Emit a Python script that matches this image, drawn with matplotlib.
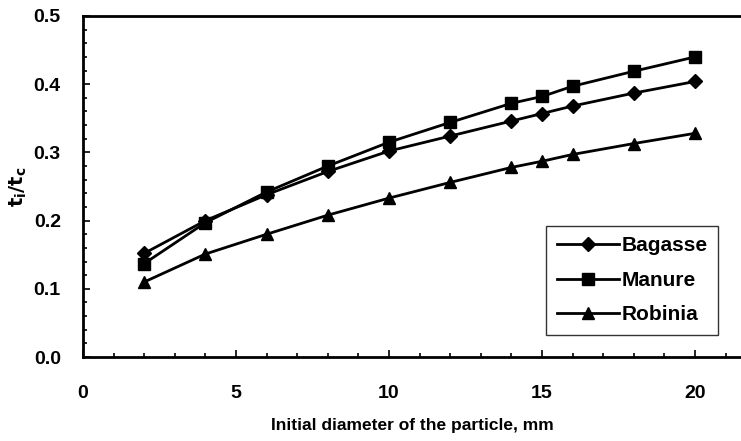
import matplotlib
matplotlib.use("Agg")
import matplotlib.pyplot as plt
from matplotlib.ticker import MultipleLocator

plt.rcParams['font.family'] = ['Liberation Sans', 'DejaVu Sans']

diameter = [2, 4, 6, 8, 10, 12, 14, 15, 16, 18, 20]
bagasse = [0.152, 0.200, 0.238, 0.272, 0.302, 0.324, 0.346, 0.357, 0.368, 0.387, 0.404]
manure = [0.137, 0.197, 0.242, 0.280, 0.315, 0.344, 0.372, 0.382, 0.397, 0.419, 0.440]
robinia = [0.110, 0.151, 0.180, 0.208, 0.233, 0.256, 0.278, 0.287, 0.297, 0.313, 0.328]

fig = plt.figure(figsize=(7.41, 4.41), dpi=100)
ax = fig.add_axes([83/741, (441-357)/441, (741-83)/741, (357-16)/441])

ax.plot(diameter, bagasse, color='black', lw=2, marker='D', ms=7, label='Bagasse')
ax.plot(diameter, manure, color='black', lw=2, marker='s', ms=8, label='Manure')
ax.plot(diameter, robinia, color='black', lw=2, marker='^', ms=8, label='Robinia')

ax.set_xlim(0, 21.5)
ax.set_ylim(0, 0.5)
ax.xaxis.set_major_locator(MultipleLocator(5))
ax.xaxis.set_minor_locator(MultipleLocator(1))
ax.yaxis.set_major_locator(MultipleLocator(0.1))
ax.yaxis.set_minor_locator(MultipleLocator(0.02))
ax.yaxis.set_major_formatter(matplotlib.ticker.FormatStrFormatter('%.1f'))
ax.tick_params(which='both', direction='in', labelsize=14, width=1.2)
ax.tick_params(which='major', length=5)
ax.tick_params(which='minor', length=3)
ax.tick_params(axis='y', which='major', pad=16)
ax.tick_params(axis='x', which='major', pad=20)
for lab in ax.get_xticklabels() + ax.get_yticklabels():
    lab.set_fontweight('bold')
ax.spines['right'].set_visible(False)
for s in ['left', 'bottom', 'top']:
    ax.spines[s].set_linewidth(2)

ax.set_xlabel('Initial diameter of the particle, mm', fontsize=12.5, fontweight='bold', labelpad=12)
ax.set_ylabel(r'$\mathbf{t_i/t_c}$', fontsize=14, labelpad=3)

leg = ax.legend(loc='lower right', bbox_to_anchor=(0.965, 0.065), fontsize=15, frameon=True,
                fancybox=False, edgecolor='black', handlelength=3.0, handletextpad=0.1,
                borderpad=0.5, borderaxespad=0.0, labelspacing=0.75)
leg.get_frame().set_linewidth(1.0)
for t in leg.get_texts():
    t.set_fontweight('bold')

fig.savefig('out.png', dpi=100)
